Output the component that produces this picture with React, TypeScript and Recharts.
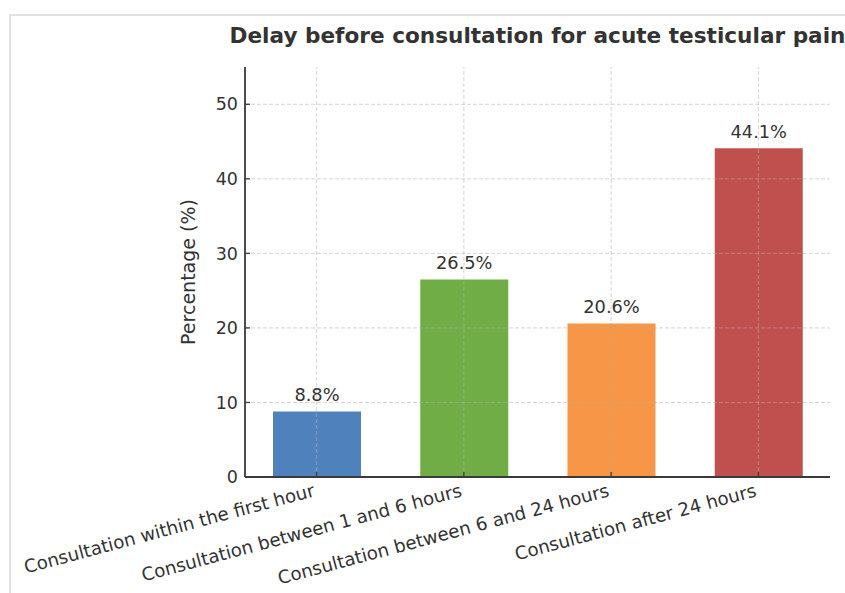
import React from "react";
import { BarChart, Bar, XAxis, YAxis, ReferenceLine, LabelList, Cell } from "recharts";

const categories = [
  "Consultation within the first hour",
  "Consultation between 1 and 6 hours",
  "Consultation between 6 and 24 hours",
  "Consultation after 24 hours",
];
const percentages = [8.8, 26.5, 20.6, 44.1];
const yTicks = [0, 10, 20, 30, 40, 50];
const gridLines = [10, 20, 30, 40, 50];

const barColors = ["#4f81bd", "#70ad47", "#f79646", "#c0504d"];

const FONT = "'DejaVu Sans', sans-serif";
const TEXT = "#333333";
const AXIS = "#3a3a3a";
const GRID = "#b0b0b0";

const rows = categories.map((name, i) => ({ name, value: percentages[i] }));

function XTick(props: any) {
  const { x, y, payload } = props;
  const tx = x - 1;
  const ty = y + 16;
  return (
    <text
      x={tx}
      y={ty}
      transform={`rotate(-15, ${tx}, ${ty})`}
      textAnchor="end"
      fontFamily={FONT}
      fontSize={18.2}
      fill={TEXT}
    >
      {payload.value}
    </text>
  );
}

export default function App() {
  return (
    <div
      style={{
        position: "absolute",
        left: 0,
        top: 0,
        width: 845,
        height: 593,
        overflow: "hidden",
        background: "#fff",
      }}
    >
      <div
        style={{
          position: "absolute",
          left: 9,
          top: 14,
          width: 900,
          height: 700,
          borderTop: "2px solid #e2e2e2",
          borderLeft: "2px solid #e2e2e2",
        }}
      />
      <div style={{ position: "absolute", left: 0, top: 0 }}>
        <BarChart
          width={845}
          height={593}
          data={rows}
          margin={{ top: 67, right: 15, bottom: 0, left: 0 }}
        >
          <XAxis
            dataKey="name"
            height={116}
            padding={{ left: -2, right: -2 }}
            interval={0}
            tick={<XTick />}
            tickSize={-5}
            tickMargin={8}
            axisLine={{ stroke: AXIS, strokeWidth: 1.8 }}
            tickLine={{ stroke: AXIS, strokeWidth: 1.3 }}
          />
          <YAxis
            width={245}
            domain={[0, 55]}
            ticks={yTicks}
            allowDataOverflow
            tickSize={-5}
            tickMargin={12}
            axisLine={{ stroke: AXIS, strokeWidth: 1.8 }}
            tickLine={{ stroke: AXIS, strokeWidth: 1.3 }}
            tick={{ fontFamily: FONT, fontSize: 17.5, fill: TEXT }}
          />
          <Bar dataKey="value" barSize={88} isAnimationActive={false}>
            {rows.map((r, i) => (
              <Cell key={r.name} fill={barColors[i]} />
            ))}
            <LabelList
              dataKey="value"
              position="top"
              offset={10}
              formatter={(v: any) => `${v}%`}
              style={{ fontFamily: FONT, fontSize: 17.8, fill: TEXT }}
            />
          </Bar>
          {gridLines.map((g) => (
            <ReferenceLine
              key={`h${g}`}
              y={g}
              stroke={GRID}
              strokeOpacity={0.6}
              strokeDasharray="4 2"
              strokeWidth={0.9}
            />
          ))}
          {categories.map((c) => (
            <ReferenceLine
              key={`v${c}`}
              x={c}
              stroke={GRID}
              strokeOpacity={0.6}
              strokeDasharray="4 2"
              strokeWidth={0.9}
            />
          ))}
        </BarChart>
      </div>
      <svg
        width={845}
        height={593}
        style={{ position: "absolute", left: 0, top: 0, pointerEvents: "none" }}
      >
        <text
          x={537.5}
          y={43}
          textAnchor="middle"
          fontFamily={FONT}
          fontWeight="bold"
          fontSize={21.6}
          fill={TEXT}
        >
          Delay before consultation for acute testicular pain
        </text>
        <text
          x={188}
          y={272}
          transform="rotate(-90, 188, 272)"
          textAnchor="middle"
          dominantBaseline="central"
          fontFamily={FONT}
          fontSize={19}
          fill={TEXT}
        >
          Percentage (%)
        </text>
      </svg>
    </div>
  );
}
